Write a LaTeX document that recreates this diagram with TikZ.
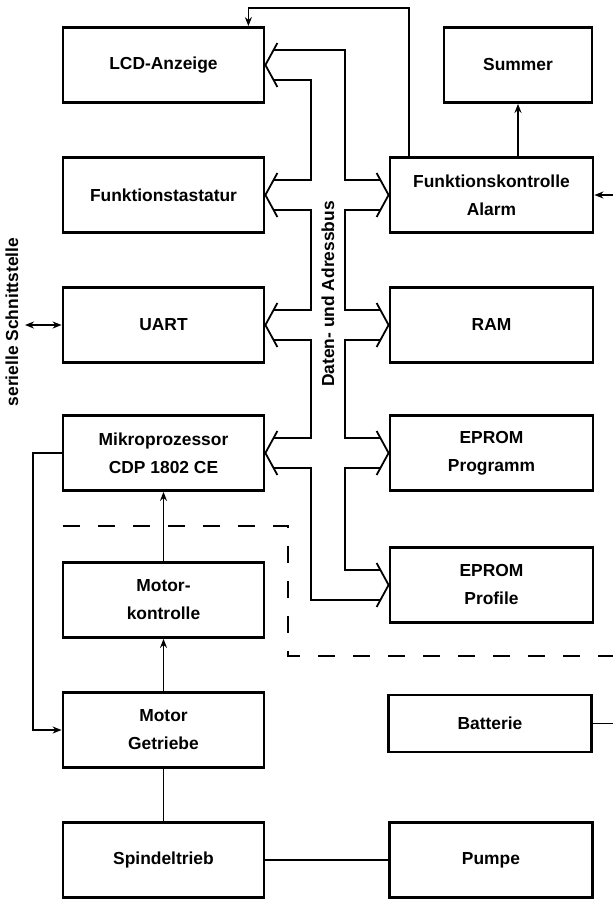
\documentclass[tikz,border=0pt]{standalone}
\usepackage{fontspec}
\setmainfont{Liberation Sans}
\usetikzlibrary{arrows.meta}

\begin{document}
\begin{tikzpicture}[x=0.5pt,y=-0.5pt,
  font=\fontsize{8.7}{14}\selectfont\bfseries,
  box/.style={draw,line width=1.4pt,inner sep=0pt,align=center,
              minimum width=100.5pt,minimum height=37.5pt},
  rbox/.style={box,minimum width=101.5pt},
  wire/.style={line width=0.9pt},
  >={Stealth[length=4.5pt,width=3.5pt]}]
  \useasboundingbox (0,0) rectangle (613,900);
  % left column
  \node[box] (lcd) at (163.5,65) {LCD-Anzeige};
  \node[box] (taste) at (163.5,195) {Funktionstastatur};
  \node[box] (uart) at (163.5,325) {UART};
  \node[box] (cpu) at (163.5,453) {Mikroprozessor\\CDP 1802 CE};
  \node[box] (motctl) at (163.5,600) {Motor-\\kontrolle};
  \node[box] (motor) at (163.5,730) {Motor\\Getriebe};
  \node[box] (spindel) at (163.5,860) {Spindeltrieb};
  % right column
  \node[box,minimum width=74pt] (summer) at (518,65) {Summer};
  \node[rbox] (alarm) at (491.5,195) {Funktionskontrolle\\Alarm};
  \node[rbox] (ram) at (491.5,325) {RAM};
  \node[rbox] (prog) at (491.5,453) {EPROM\\Programm};
  \node[rbox] (prof) at (491.5,585) {EPROM\\Profile};
  \node[rbox,minimum height=28.5pt] (batt) at (490,723.5) {Batterie};
  \node[rbox] (pumpe) at (491,860) {Pumpe};

  % data and address bus
  \coordinate (bl) at (311,0);
  \coordinate (br) at (345,0);
  \foreach \n in {lcd,taste,uart,cpu}
    \draw[wire] ([shift={(12,-22)}]\n.east) -- (\n.east) -- ([shift={(12,22)}]\n.east);
  \foreach \n in {alarm,ram,prog,prof}
    \draw[wire] ([shift={(-12,-22)}]\n.west) -- (\n.west) -- ([shift={(-12,22)}]\n.west);
  \foreach \a/\b in {lcd/taste,taste/uart,uart/cpu}
    \draw[wire] ([shift={(8.2,15)}]\a.east) -| ([shift={(0,-15)}]\b.east -| bl)
      -- ([shift={(8.2,-15)}]\b.east);
  \draw[wire] ([shift={(8.2,15)}]cpu.east) -| ([shift={(0,15)}]prof.west -| bl)
      -- ([shift={(-8.2,15)}]prof.west);
  \draw[wire] ([shift={(8.2,-15)}]lcd.east) -| ([shift={(0,-15)}]alarm.west -| br)
      -- ([shift={(-8.2,-15)}]alarm.west);
  \foreach \a/\b in {alarm/ram,ram/prog,prog/prof}
    \draw[wire] ([shift={(-8.2,15)}]\a.west) -| ([shift={(0,-15)}]\b.west -| br)
      -- ([shift={(-8.2,-15)}]\b.west);
  \node[rotate=90] (busname) at (328,294) {Daten- und Adressbus};

  % dashed boundary
  \draw[line width=1.1pt,dash pattern=on 8.5pt off 9pt]
    (63,526) -- (288,526) -- (288,656) -- (613,656);

  % other links
  \draw[wire,->] ([shift={(20,0)}]alarm.north west) -- ++(0,-148)
    -| ([shift={(-17,0)}]lcd.north east);
  \draw[wire,->] (alarm.north -| summer.south) -- (summer.south);
  \draw[wire,->] (motctl.north) -- (cpu.south);
  \draw[wire,->] (motor.north) -- (motctl.south);
  \draw[wire,->] (cpu.west) -- ++(-29,0) |- (motor.west);
  \draw[wire] (motor.south) -- (spindel.north);
  \draw[wire] (spindel.east) -- (pumpe.west);
  \coordinate (serial) at (25,325);
  \draw[wire,<->] (serial) -- (uart.west);
  \node[rotate=90] (serlabel) at (12,322) {serielle Schnittstelle};
  \coordinate (alarmin) at (613,195);
  \draw[wire,->] (alarmin) -- (alarm.east);
  \coordinate (battout) at (613,723.5);
  \draw[wire] (batt.east) -- (battout);
\end{tikzpicture}
\end{document}
